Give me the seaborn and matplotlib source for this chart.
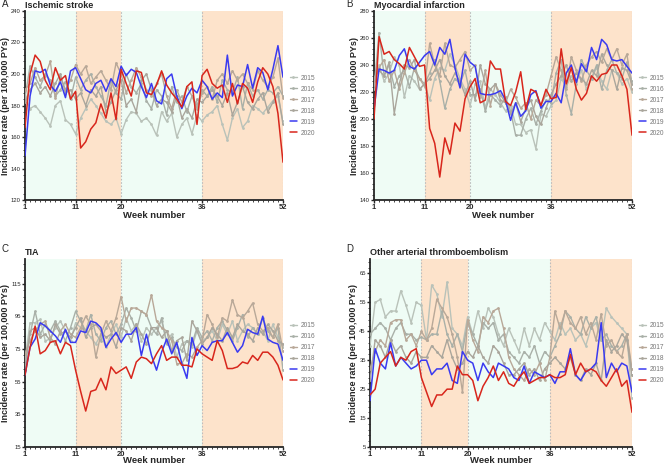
import numpy as np
import pandas as pd
import seaborn as sns
import matplotlib.pyplot as plt
from matplotlib.colors import to_hex
from matplotlib.ticker import MultipleLocator, AutoMinorLocator

weeks = list(range(1, 53))
years = ["2015", "2016", "2017", "2018", "2019", "2020"]

# Ischemic stroke
stroke_2015 = [186, 178, 180, 176, 172, 167, 180, 183, 171, 168, 162, 172, 178, 184, 180, 175, 170, 168, 172, 162, 171, 176, 175, 170, 172, 168, 161, 176, 170, 175, 160, 168, 172, 162, 174, 170, 174, 176, 180, 168, 158, 172, 178, 166, 170, 180, 178, 175, 179, 183, 186, 170]
stroke_2016 = [185, 205, 198, 192, 200, 196, 186, 190, 195, 184, 198, 190, 196, 200, 192, 186, 180, 196, 188, 184, 200, 192, 188, 194, 183, 178, 190, 186, 174, 192, 182, 186, 176, 186, 180, 190, 186, 192, 182, 196, 190, 188, 198, 178, 194, 186, 190, 184, 190, 188, 192, 186]
stroke_2017 = [190, 194, 204, 196, 199, 208, 185, 198, 190, 196, 206, 200, 205, 194, 198, 202, 196, 190, 207, 200, 188, 196, 204, 198, 190, 186, 194, 200, 186, 178, 190, 182, 192, 186, 178, 188, 192, 184, 196, 200, 194, 202, 196, 200, 194, 190, 202, 196, 192, 198, 210, 185]
stroke_2018 = [182, 190, 194, 188, 192, 186, 194, 200, 188, 190, 184, 188, 180, 190, 186, 192, 176, 182, 190, 196, 180, 184, 176, 196, 200, 190, 180, 184, 182, 176, 186, 172, 178, 172, 184, 182, 186, 190, 186, 180, 188, 174, 182, 192, 182, 178, 184, 188, 176, 182, 188, 168]
stroke_2019 = [148, 186, 202, 201, 203, 193, 189, 195, 185, 202, 204, 197, 190, 188, 194, 196, 189, 197, 192, 205, 199, 203, 201, 192, 185, 194, 183, 181, 197, 200, 186, 178, 186, 191, 188, 196, 192, 184, 188, 185, 212, 186, 193, 192, 206, 191, 204, 201, 190, 203, 218, 198]
stroke_2020 = [166, 200, 212, 208, 196, 190, 204, 196, 199, 184, 189, 153, 157, 165, 169, 181, 172, 188, 171, 203, 194, 186, 202, 201, 188, 187, 193, 202, 193, 188, 184, 179, 192, 195, 168, 199, 203, 194, 191, 193, 182, 194, 181, 194, 191, 182, 195, 204, 200, 192, 175, 144]

# Myocardial infarction
mi_2015 = [229, 240, 228, 234, 246, 240, 216, 232, 228, 222, 226, 214, 230, 238, 236, 248, 240, 230, 222, 210, 226, 228, 208, 222, 218, 212, 206, 210, 196, 196, 190, 192, 178, 204, 202, 210, 214, 230, 224, 232, 228, 236, 222, 230, 238, 228, 222, 236, 234, 226, 230, 220]
mi_2016 = [222, 264, 232, 240, 224, 232, 236, 224, 238, 230, 226, 234, 244, 228, 208, 222, 230, 226, 236, 218, 218, 222, 206, 218, 214, 210, 216, 206, 188, 188, 200, 208, 196, 206, 214, 212, 234, 244, 218, 204, 226, 244, 236, 230, 240, 222, 236, 244, 234, 230, 242, 228]
mi_2017 = [228, 238, 244, 228, 236, 222, 234, 244, 236, 230, 224, 256, 240, 232, 256, 240, 238, 244, 250, 236, 240, 216, 236, 210, 226, 218, 212, 222, 216, 208, 212, 200, 214, 210, 218, 232, 246, 236, 222, 246, 236, 228, 240, 246, 250, 242, 252, 244, 252, 240, 248, 222]
mi_2018 = [230, 236, 232, 242, 204, 226, 240, 238, 244, 222, 226, 230, 236, 244, 232, 226, 234, 228, 218, 228, 214, 240, 226, 222, 226, 214, 212, 204, 212, 198, 208, 214, 202, 196, 208, 218, 226, 232, 240, 228, 234, 230, 226, 236, 232, 248, 240, 236, 222, 238, 236, 226]
mi_2019 = [207, 237, 236, 234, 236, 247, 252, 239, 237, 242, 247, 250, 240, 253, 248, 259, 238, 223, 248, 242, 239, 219, 218, 218, 219, 221, 214, 199, 212, 202, 206, 218, 221, 208, 213, 213, 219, 212, 234, 240, 227, 241, 235, 253, 244, 259, 255, 244, 243, 244, 239, 234]
mi_2020 = [200, 261, 248, 250, 244, 241, 237, 253, 246, 239, 240, 193, 182, 157, 186, 174, 197, 191, 215, 224, 230, 212, 214, 243, 237, 237, 213, 210, 220, 235, 207, 222, 220, 210, 222, 215, 216, 252, 226, 238, 222, 214, 219, 232, 228, 233, 234, 240, 240, 232, 222, 188]

# TIA
tia_2015 = [68, 91, 91, 93, 80, 81, 88, 92, 86, 80, 91, 88, 86, 82, 78, 84, 76, 84, 90, 82, 94, 86, 90, 80, 88, 84, 88, 92, 80, 84, 70, 78, 80, 76, 86, 80, 82, 86, 80, 90, 84, 92, 80, 86, 90, 88, 84, 86, 80, 90, 82, 76]
tia_2016 = [66, 84, 98, 84, 90, 86, 92, 86, 80, 88, 98, 92, 86, 96, 84, 80, 88, 92, 84, 90, 100, 94, 86, 98, 96, 88, 84, 94, 78, 82, 76, 74, 80, 78, 88, 82, 86, 80, 88, 92, 86, 80, 88, 96, 82, 88, 84, 94, 86, 82, 88, 62]
tia_2017 = [72, 80, 86, 90, 92, 82, 78, 86, 90, 84, 82, 88, 95, 90, 70, 84, 92, 86, 94, 107, 92, 100, 100, 98, 96, 108, 92, 88, 86, 80, 66, 66, 72, 70, 76, 80, 96, 90, 82, 94, 92, 105, 96, 94, 98, 103, 90, 86, 88, 82, 90, 74]
tia_2018 = [62, 86, 88, 82, 84, 80, 90, 84, 86, 82, 88, 94, 82, 88, 90, 86, 82, 84, 76, 88, 86, 80, 90, 84, 78, 88, 88, 82, 86, 74, 80, 82, 68, 92, 86, 78, 82, 88, 84, 80, 88, 82, 90, 86, 84, 80, 88, 84, 90, 86, 80, 78]
tia_2019 = [59, 76, 81, 91, 89, 86, 83, 79, 87, 79, 79, 86, 85, 92, 91, 88, 76, 81, 85, 79, 84, 84, 88, 71, 84, 71, 62, 73, 81, 72, 79, 66, 57, 82, 71, 77, 74, 79, 80, 80, 85, 79, 73, 77, 87, 85, 84, 95, 81, 79, 78, 68]
tia_2020 = [59, 76, 89, 72, 74, 79, 80, 72, 79, 77, 62, 49, 37, 49, 50, 57, 50, 64, 60, 62, 64, 57, 67, 70, 69, 66, 72, 77, 68, 70, 70, 65, 65, 64, 75, 72, 70, 68, 80, 74, 63, 63, 64, 67, 66, 71, 68, 73, 73, 70, 65, 56]

# Other arterial thromboembolism
ate_2015 = [40, 55, 56, 50, 52, 52, 59, 54, 48, 55, 54, 42, 61, 58, 50, 62, 46, 44, 40, 50, 44, 52, 46, 53, 50, 44, 40, 46, 42, 38, 46, 40, 46, 42, 48, 45, 42, 48, 44, 46, 42, 44, 40, 46, 48, 42, 53, 50, 48, 46, 44, 22]
ate_2016 = [44, 46, 48, 46, 42, 46, 48, 44, 44, 42, 43, 42, 44, 44, 52, 44, 40, 44, 38, 48, 44, 40, 48, 46, 48, 42, 44, 38, 36, 34, 38, 36, 40, 34, 38, 36, 40, 44, 52, 50, 46, 44, 50, 46, 50, 42, 44, 40, 38, 40, 44, 30]
ate_2017 = [32, 38, 42, 40, 48, 49, 49, 42, 44, 40, 45, 42, 46, 56, 53, 50, 44, 36, 24, 49, 42, 38, 50, 48, 52, 53, 46, 36, 32, 30, 28, 32, 30, 34, 28, 36, 52, 46, 52, 48, 46, 50, 44, 48, 42, 51, 40, 42, 38, 36, 44, 32]
ate_2018 = [28, 42, 40, 36, 42, 38, 40, 36, 34, 38, 36, 36, 40, 38, 36, 42, 36, 32, 34, 38, 36, 40, 36, 34, 40, 38, 34, 30, 30, 32, 34, 30, 32, 28, 32, 34, 36, 34, 32, 36, 30, 28, 32, 30, 34, 28, 42, 38, 40, 44, 42, 30]
ate_2019 = [21, 39, 34, 32, 41, 33, 36, 34, 32, 33, 35, 35, 30, 32, 32, 34, 28, 27, 38, 35, 34, 28, 34, 31, 29, 34, 33, 32, 29, 28, 33, 27, 31, 30, 29, 30, 27, 31, 31, 39, 30, 28, 31, 32, 34, 48, 29, 34, 31, 34, 33, 24]
ate_2020 = [23, 25, 34, 36, 38, 33, 36, 35, 38, 39, 29, 24, 19, 23, 23, 25, 25, 33, 30, 30, 28, 21, 26, 29, 33, 28, 31, 27, 26, 29, 31, 27, 28, 29, 29, 30, 29, 29, 30, 37, 30, 34, 31, 32, 31, 28, 26, 29, 32, 26, 28, 17]

panels = [
    ("A", "Ischemic stroke", [stroke_2015, stroke_2016, stroke_2017, stroke_2018, stroke_2019, stroke_2020], (120, 240), 120, 20),
    ("B", "Myocardial infarction", [mi_2015, mi_2016, mi_2017, mi_2018, mi_2019, mi_2020], (140, 280), 140, 20),
    ("C", "TIA", [tia_2015, tia_2016, tia_2017, tia_2018, tia_2019, tia_2020], (15, 130), 15, 20),
    ("D", "Other arterial thromboembolism", [ate_2015, ate_2016, ate_2017, ate_2018, ate_2019, ate_2020], (5, 70), 5, 10),
]

palette = {"2015": "#b9c2b9", "2016": "#a9b0a8", "2017": "#b8a898", "2018": "#aaa69c",
           "2019": "#3a3af0", "2020": "#d8261c"}
sizes = {"2015": 1.0, "2016": 1.0, "2017": 1.0, "2018": 1.0, "2019": 1.1, "2020": 1.1}
no_marker = {palette["2019"], palette["2020"]}

sns.set_style("ticks")
plt.rcParams["font.family"] = ["Liberation Sans", "DejaVu Sans"]

W, H = 669, 465
fig = plt.figure(figsize=(W / 100, H / 100), dpi=100)

# axes boxes in pixels: left, top, right, bottom
boxes = [(25, 11, 283, 200), (374, 11, 632, 200), (25, 259, 283, 447), (370, 259, 632, 447)]
letters_xy = [(2, 7), (346, 7), (2, 252), (346, 252)]
titles_y = [8, 8, 255, 255]
xlabel_pads = [0, 0, -1.5, -1.5]

for (letter, title, series, ylim, y0, ystep), box, lxy, ty, xpad in zip(panels, boxes, letters_xy, titles_y, xlabel_pads):
    l, t, r, b = box
    ax = fig.add_axes([l / W, 1 - b / H, (r - l) / W, (b - t) / H])
    for y in series:
        assert len(y) == 52
    df = pd.DataFrame({
        "week": weeks * 6,
        "rate": np.concatenate(series),
        "year": np.repeat(years, 52),
    })
    for a, bb, c in [(1, 11, "#effcf5"), (11, 20, "#fde3cb"), (20, 36, "#effcf5"), (36, 52, "#fde3cb")]:
        ax.axvspan(a, bb, color=c, lw=0, zorder=0)
    for xv in [11, 20, 36, 52]:
        ax.axvline(xv, color="#bdbdbd", lw=0.8, ls=(0, (1.5, 1.5)), zorder=1)
    sns.lineplot(df, x="week", y="rate", hue="year", palette=palette,
                 size="year", sizes=sizes, marker="o",
                 markersize=2.0, markeredgewidth=0, ax=ax, zorder=3)
    for ln in ax.lines:
        if to_hex(ln.get_color()) in no_marker:
            ln.set_marker("")
    ax.set_xlim(1, 52)
    ax.set_ylim(*ylim)
    ax.set_xticks([1, 11, 20, 36, 52])
    ax.set_yticks(np.arange(y0, ylim[1] + 0.1, ystep))
    ax.xaxis.set_minor_locator(MultipleLocator(1))
    ax.yaxis.set_minor_locator(AutoMinorLocator(5))
    ax.tick_params(axis="x", which="major", labelsize=5.5, length=2.5, width=1, pad=0.5)
    ax.tick_params(axis="y", which="major", labelsize=4.2, length=2.5, width=1, pad=0.5)
    ax.tick_params(which="minor", length=1.3, width=0.6)
    for lab in ax.get_xticklabels():
        lab.set_fontweight("bold")
    sns.despine(ax=ax)
    ax.spines["left"].set_linewidth(1.3)
    ax.spines["bottom"].set_linewidth(1.3)
    ax.set_xlabel("Week number", fontsize=6.8, fontweight="bold", labelpad=xpad)
    ax.set_ylabel("Incidence rate (per 100,000 PYs)", fontsize=6.5, fontweight="bold", labelpad=1)
    fig.text(l / W, 1 - ty / H, title, fontsize=6.5, fontweight="bold", va="baseline")
    fig.text(lxy[0] / W, 1 - lxy[1] / H, letter, fontsize=7, va="baseline")
    leg = ax.legend(loc="center left", bbox_to_anchor=(1.0, 0.5), frameon=False,
                    fontsize=4.8, handlelength=1.1, labelspacing=0.6, handletextpad=0.5,
                    borderaxespad=0.6)
    for h in leg.legend_handles:
        if to_hex(h.get_color()) in no_marker:
            h.set_marker("")
        else:
            h.set_marker("o")
            h.set_markersize(2)
    for tx in leg.get_texts():
        tx.set_color("#777777")

fig.savefig("out.png", dpi=100)
